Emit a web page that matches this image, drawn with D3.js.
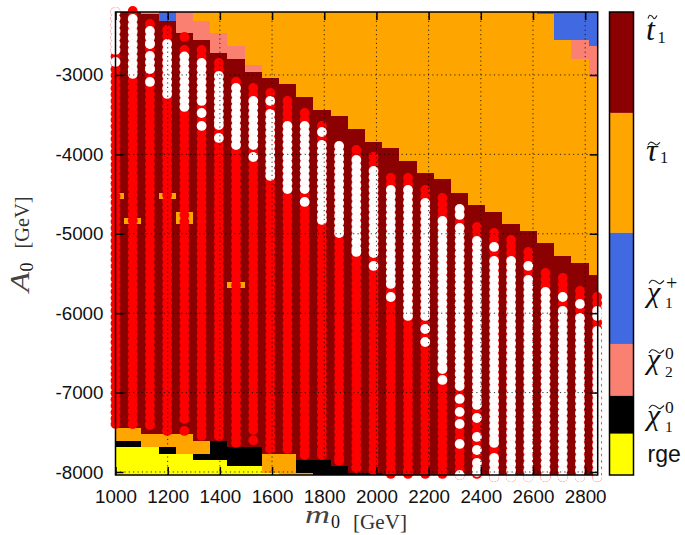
<!DOCTYPE html>
<html><head><meta charset="utf-8">
<script src="https://cdn.jsdelivr.net/npm/d3@7"></script>
<style>html,body{margin:0;padding:0;background:#fff}svg{display:block}</style></head>
<body><svg id="c" width="685" height="535"></svg>
<script>
// ----- data -----
const m0Columns = [1000,1066,1132,1198,1264,1330,1396,1462,1528,1593,1659,1725,1791,1857,1923,1989,2055,2121,2187,2253,2319,2385,2451,2516,2582,2648,2714,2780,2846];
const A0Top = -2207, A0Bottom = -8038;
const categories = ["stop","stau","chargino","chi20","chi10","rge"];
// each column: [category, lower A0 edge] from the top of the plane downwards
const regionStacks = [
 [["stop",-7446],["stau",-7609],["chi10",-7685],["rge",A0Bottom]],
 [["stop",-7446],["stau",-7609],["chi10",-7685],["rge",A0Bottom]],
 [["chi20",-2232],["stop",-7521],["stau",-7685],["rge",A0Bottom]],
 [["chargino",-2320],["stop",-7521],["stau",-7685],["chi10",-7773],["rge",A0Bottom]],
 [["chi20",-2471],["stop",-7521],["stau",-7773],["rge",A0Bottom]],
 [["stau",-2320],["chi20",-2559],["stop",-7609],["stau",-7773],["chi10",-7849],["rge",A0Bottom]],
 [["stau",-2471],["chi20",-2723],["stop",-7609],["chi10",-7849],["rge",A0Bottom]],
 [["stau",-2635],["chi20",-2798],["stop",-7685],["chi10",-7924],["rge",A0Bottom]],
 [["stau",-2874],["chi20",-2962],["stop",-7685],["chi10",-7924],["rge",A0Bottom]],
 [["stau",-3038],["stop",-7773],["stau",-8008],["rge",A0Bottom]],
 [["stau",-3113],["stop",-7773],["stau",A0Bottom]],
 [["stau",-3277],["stop",-7849],["chi10",-8008],["stau",A0Bottom]],
 [["stau",-3441],["stop",-7849],["chi10",A0Bottom]],
 [["stau",-3516],["stop",-7924],["chi10",A0Bottom]],
 [["stau",-3680],["stop",-8008],["chi10",A0Bottom]],
 [["stau",-3844],["stop",-8019],["chi10",A0Bottom]],
 [["stau",-3919],["stop",A0Bottom]],
 [["stau",-4083],["stop",A0Bottom]],
 [["stau",-4234],["stop",A0Bottom]],
 [["stau",-4316],["stop",A0Bottom]],
 [["stau",-4486],["stop",A0Bottom]],
 [["stau",-4637],["stop",A0Bottom]],
 [["stau",-4725],["stop",A0Bottom]],
 [["stau",-4877],["stop",A0Bottom]],
 [["stau",-4965],["stop",A0Bottom]],
 [["chargino",-2232],["stau",-5116],["stop",A0Bottom]],
 [["chargino",-2559],["stau",-5280],["stop",A0Bottom]],
 [["chargino",-2559],["chi20",-2798],["stau",-5368],["stop",A0Bottom]],
 [["chargino",-2635],["chi20",-3025],["stau",-5519],["stop",A0Bottom]]
];
// small stau islands: [column index, upper A0, lower A0]
const stauIslands = [[0,-4486,-4562],[3,-4486,-4562],[1,-4801,-4877],[4,-4725,-4877],[7,-5607,-5683]];
// red points: [upper A0, lower A0] per column (scan spacing below)
const scanStep = 80;
const redRuns = [
 [[-2207,-7395]],[[-2194,-7395]],[[-2358,-7408]],[[-2433,-7483]],[[-2521,-2521],[-2685,-7332],[-7483,-7483]],
 [[-2685,-7546]],[[-2849,-7546]],[[-3088,-7634]],[[-3164,-7471],[-7600,-7600]],[[-3227,-7710]],[[-3327,-7710]],
 [[-3479,-7786]],[[-3642,-7786]],[[-3894,-7861]],[[-3945,-7949]],[[-4033,-7980]],[[-4297,-8025]],[[-4297,-8025]],
 [[-4448,-8025]],[[-4549,-8025]],[[-4688,-8038]],[[-4914,-8025]],[[-4990,-8063]],[[-5078,-8063]],[[-5229,-8063]],
 [[-5494,-8063]],[[-5557,-8063]],[[-5720,-8063]],[[-5796,-8063]]
];
// white points: [upper A0, lower A0] per column
const whiteRuns = [
 [[-2207,-2685],[-2836,-2836]],
 [[-2295,-2987]],
 [[-2446,-2610],[-2761,-2924],[-3088,-3088]],
 [[-2610,-3239]],
 [[-2767,-3403]],
 [[-2849,-3327],[-3479,-3479],[-3642,-3642]],
 [[-3013,-3630],[-3793,-3793]],
 [[-3164,-3882]],
 [[-3327,-3882],[-4033,-4033]],
 [[-3327,-3327],[-3491,-4272]],
 [[-3642,-4436]],
 [[-3642,-4436],[-4599,-4599]],
 [[-3718,-3718],[-3882,-4826]],
 [[-3894,-4990]],
 [[-4070,-5229]],
 [[-4209,-5242],[-5405,-5405]],
 [[-4448,-5632],[-5796,-5796]],
 [[-4448,-6035]],
 [[-4612,-6035],[-6199,-6199],[-6363,-6363]],
 [[-4839,-6703],[-6841,-6841]],
 [[-4688,-4763],[-4927,-6917],[-7080,-7080],[-7244,-7244],[-7395,-7395],[-7647,-7647],[-8038,-8038]],
 [[-5091,-7156],[-7320,-7320],[-7559,-7559],[-7723,-7723],[-7886,-8000]],
 [[-5166,-5166],[-5342,-7634],[-7823,-8000],[-8063,-8063]],
 [[-5342,-8063]],
 [[-5405,-5405],[-5582,-8063]],
 [[-5733,-8063]],
 [[-5796,-5796],[-5972,-8063]],
 [[-5884,-5884],[-6060,-8063]],
 [[-5972,-6035],[-6224,-8063]]
];
const xTicks = [1000,1200,1400,1600,1800,2000,2200,2400,2600,2800];
const yTicks = [-3000,-4000,-5000,-6000,-7000,-8000];
const barCategories = ["stop","stau","chargino","chi20","chi10","rge"];
const barShares = [0.218,0.259,0.240,0.112,0.082,0.089];
// ----- styles -----
const colours = {stop:"#8b0000",stau:"#ffa500",chargino:"#4169e1",chi20:"#fa8072",chi10:"#000000",rge:"#ffff00"};
const svg = d3.select("#c");
const x = d3.scaleLinear().domain([1000,2848]).range([115.5,597.7]);
const y = d3.scaleLinear().domain([A0Top,A0Bottom]).range([12,475]);
const halfCol = (x(m0Columns[1])-x(m0Columns[0]))/2;
const colLeft = k => Math.max(x(m0Columns[k])-halfCol,x.range()[0]);
const colRight = k => Math.min(x(m0Columns[k])+halfCol,x.range()[1]);
// regions
regionStacks.forEach((stack,k)=>{
  let upper=A0Top;
  const segs=stack.map(([cat,low])=>{const s={cat,upper,low};upper=low;return s;});
  svg.append("g").attr("shape-rendering","crispEdges").selectAll("rect").data(segs).join("rect")
    .attr("x",colLeft(k)).attr("width",colRight(k)-colLeft(k)+0.3)
    .attr("y",d=>y(d.upper)).attr("height",d=>y(d.low)-y(d.upper)+0.3)
    .attr("fill",d=>colours[d.cat]);
});
svg.append("g").attr("shape-rendering","crispEdges").selectAll("rect").data(stauIslands).join("rect")
  .attr("x",d=>colLeft(d[0])).attr("width",d=>colRight(d[0])-colLeft(d[0]))
  .attr("y",d=>y(d[1])).attr("height",d=>y(d[2])-y(d[1])).attr("fill",colours.stau);
// points
function expand(runs){
  const out=[];
  runs.forEach((rs,k)=>rs.forEach(([a,b])=>{
    d3.range(a,b,-scanStep).forEach(v=>out.push([m0Columns[k],v]));
    out.push([m0Columns[k],b]);
  }));
  return out;
}
const R=4.9;
svg.append("g").selectAll("circle").data(expand(redRuns)).join("circle")
  .attr("cx",d=>x(d[0])).attr("cy",d=>y(d[1])).attr("r",R).attr("fill","#ff0000");
svg.append("g").selectAll("circle").data(expand(whiteRuns)).join("circle")
  .attr("cx",d=>x(d[0])).attr("cy",d=>y(d[1])).attr("r",R).attr("fill","#ffffff")
  .attr("stroke","#ff0000").attr("stroke-opacity",0.2).attr("stroke-width",0.5).attr("stroke-dasharray","1.5 1.5");
// grid
const grid=svg.append("g").attr("stroke","#000").attr("stroke-width",1).attr("stroke-dasharray","1.2 3.2").attr("stroke-opacity",0.8);
grid.selectAll("line.v").data(xTicks.slice(1)).join("line").attr("class","v")
  .attr("x1",d=>x(d)).attr("x2",d=>x(d)).attr("y1",12).attr("y2",475);
grid.selectAll("line.h").data(yTicks).join("line").attr("class","h")
  .attr("x1",115.5).attr("x2",597.7).attr("y1",d=>y(d)).attr("y2",d=>y(d));
// axes
const tf="'Liberation Sans',Arial,sans-serif";
const axB=svg.append("g").attr("transform","translate(0,475)").call(d3.axisBottom(x).tickValues(xTicks).tickFormat(d3.format("d")).tickSize(-8).tickPadding(14.5));
const axL=svg.append("g").attr("transform","translate(115.5,0)").call(d3.axisLeft(y).tickValues(yTicks).tickFormat(d=>String(d)).tickSize(-8).tickPadding(12));
const axT=svg.append("g").attr("transform","translate(0,12)").call(d3.axisTop(x).tickValues(xTicks).tickFormat("").tickSize(-8));
const axR=svg.append("g").attr("transform","translate(597.7,0)").call(d3.axisRight(y).tickValues(yTicks).tickFormat("").tickSize(-8));
[axB,axL,axT,axR].forEach(a=>{
  a.selectAll("path").remove();
  a.selectAll("line").attr("stroke","#000").attr("stroke-width",1.5);
  a.selectAll("text").attr("font-family",tf).attr("font-size",18.8).attr("fill","#111");
});
axB.selectAll("text").attr("dy","0.71em");
svg.append("rect").attr("x",115.5).attr("y",12).attr("width",482.2).attr("height",463)
  .attr("fill","none").attr("stroke","#000").attr("stroke-width",1.5);
// colour bar
const bar=d3.scaleLinear().domain([0,1]).range([12,475]);
let acc=0;
const barSegs=barCategories.map((c,i)=>{const s={c,a:acc,b:acc+barShares[i]};acc+=barShares[i];return s;});
svg.append("g").selectAll("rect").data(barSegs).join("rect").attr("x",609.5).attr("width",24)
  .attr("y",d=>bar(d.a)).attr("height",d=>bar(d.b)-bar(d.a)).attr("fill",d=>colours[d.c]);
svg.append("rect").attr("x",609.5).attr("y",12).attr("width",24).attr("height",463).attr("fill","none").attr("stroke","#000").attr("stroke-width",1.5);
// math labels
const ser="'Liberation Serif','DejaVu Serif',serif";
const tildeShape=[[0,0.7],[0.2,0.05],[0.45,0.25],[0.7,0.75],[1,0.1]];
const tildeLine=d3.line().curve(d3.curveCatmullRom);
function tilde(x0,x1,y0,y1){
  const sx=d3.scaleLinear().domain([0,1]).range([x0,x1]), sy=d3.scaleLinear().domain([0,1]).range([y0,y1]);
  svg.append("path").attr("d",tildeLine(tildeShape.map(p=>[sx(p[0]),sy(p[1])])))
    .attr("fill","none").attr("stroke","#222").attr("stroke-width",1.1);
}
function math(px,py,letter,size,parts){
  const t=svg.append("text").attr("x",px).attr("y",py).attr("fill","#111").attr("font-family",ser);
  t.append("tspan").attr("font-size",size).attr("font-style","italic").text(letter);
  parts.forEach(p=>{
    t.append("tspan").attr("x",p.x).attr("y",p.y).attr("font-size",p.s).text(p.t);
  });
}
math(646,40,"t",32,[{x:657.5,y:43,s:16.5,t:"1"}]);
tilde(648,657,15,20);
math(646,160.5,"τ",32,[{x:660,y:163,s:16.5,t:"1"}]);
tilde(648,660,142,146);
math(647,302,"χ",30,[{x:665,y:308,s:15.5,t:"1"},{x:666,y:290,s:20,t:"+"}]);
tilde(649,664,280,285);
math(647,369,"χ",30,[{x:665,y:376.5,s:15.5,t:"2"},{x:665,y:359,s:17.5,t:"0"}]);
tilde(649,664,349.5,354.5);
math(647,425,"χ",30,[{x:665,y:431.5,s:15.5,t:"1"},{x:665,y:413,s:17.5,t:"0"}]);
tilde(649,664,405,410);
svg.append("text").attr("x",647.5).attr("y",461.5).attr("font-family",tf).attr("font-size",23).attr("fill","#111").text("rge");
// axis titles
const lab=(tx,ty,rot,s,txt,it,len,col)=>{
  const e=svg.append("text").attr("transform",`translate(${tx},${ty}) rotate(${rot})`).attr("font-family",ser)
   .attr("font-size",s).attr("fill",col||"#111").text(txt);
  if(it)e.attr("font-style","italic");
  if(len)e.attr("textLength",len).attr("lengthAdjust","spacingAndGlyphs");
};
lab(305,523,0,25,"m",true,25,"#444");
lab(331,527.5,0,18,"0",false);
lab(353,529,0,20.5,"[GeV]",false,54,"#333");
lab(28.5,292,-90,27,"A",true,20,"#444");
lab(33,271.5,-90,18,"0",false);
lab(29,248.5,-90,20.5,"[GeV]",false,52,"#333");
</script></body></html>
